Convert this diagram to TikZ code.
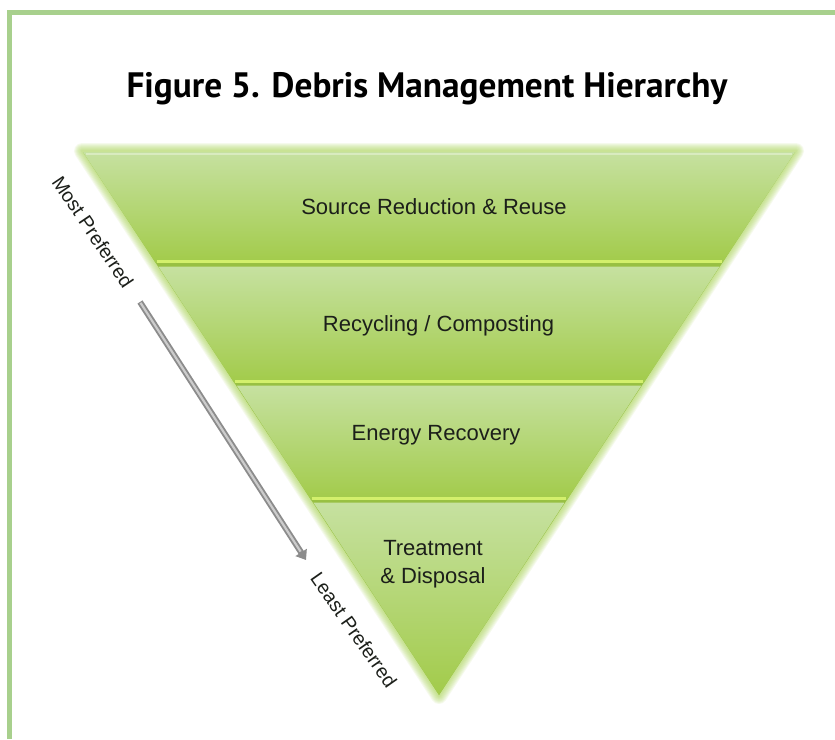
\documentclass[tikz,border=0pt]{standalone}
\usepackage{fontspec}
\setmainfont{Liberation Sans}
\newfontfamily\titlefont{PT Sans}
\usetikzlibrary{arrows.meta}
\definecolor{framegreen}{HTML}{A8D08D}
\definecolor{glowgreen}{HTML}{A6D34E}
\definecolor{bandtop}{HTML}{C6E1A0}
\definecolor{bandmid}{HTML}{ACD35C}
\definecolor{bandbot}{HTML}{A2CB4A}
\definecolor{brightgreen}{HTML}{D3F06C}
\definecolor{basegreen}{HTML}{98C043}
\definecolor{labeltext}{HTML}{1C1F1A}
\tikzset{
  bandshade/.style={top color=bandtop, middle color=bandmid, bottom color=bandbot},
  brightline/.style={draw=brightgreen, line width=2.6pt},
  bandlabel/.style={font=\fontsize{22}{28}\selectfont, text=labeltext, align=center, inner sep=0pt},
  sidelabel/.style={font=\fontsize{19.5}{22}\selectfont, text=labeltext, inner sep=0pt},
  glowline/.style={draw=glowgreen, line join=round, draw opacity=0.10},
}
\begin{document}
\begin{tikzpicture}[x=1pt,y=-1pt]
\useasboundingbox (0,0) rectangle (835,739);
\fill[white] (0,0) rectangle (835,739);
% frame
\draw[framegreen, line width=5pt] (9,739) -- (9,12) -- (835,12);
% title
\node[font=\titlefont\bfseries\fontsize{35.3}{40}\selectfont, anchor=base, inner sep=0pt] (title) at (427,97) {Figure 5. Debris Management Hierarchy};
% glow
\foreach \w in {2,4,6,8,10,12,14,16} {
  \draw[glowline, line width=\w pt] (82,151) -- (796,151) -- (439,696) -- cycle;
}
% base triangle
\fill[basegreen] (83,152) -- (795,152) -- (439,695) -- cycle;
% bands
\shade[bandshade] (83,152) -- (795,152) -- (722.2,263) -- (155.8,263) -- cycle;
\shade[bandshade] (158.4,266.5) -- (719.6,266.5) -- (643.6,383) -- (234.4,383) -- cycle;
\shade[bandshade] (236.7,385.5) -- (641.3,385.5) -- (566.9,500) -- (311.1,500) -- cycle;
\shade[bandshade] (313.4,502.5) -- (564.6,502.5) -- (439,695) -- cycle;
% highlight at top
\draw[white, opacity=0.35, line width=1.5pt] (86,154) -- (792,154);
% bright separators
\draw[brightline] (156.5,261.7) -- (721.5,261.7);
\draw[brightline] (234.9,381.7) -- (643.1,381.7);
\draw[brightline] (311.7,498.7) -- (566.3,498.7);
% band labels
\node[bandlabel, anchor=base] (l1) at (434,214) {Source Reduction \& Reuse};
\node[bandlabel, anchor=base] (l2) at (438.5,331) {Recycling / Composting};
\node[bandlabel, anchor=base] (l3) at (436,440) {Energy Recovery};
\node[bandlabel, anchor=base] (l4) at (433,583) {Treatment\\\& Disposal};
% side labels
\node[sidelabel, rotate=-56] (most) at (93,232) {Most Preferred};
\node[sidelabel, rotate=-55] (least) at (354,630) {Least Preferred};
% arrow
\coordinate (arrS) at (140,302);
\coordinate (arrE) at (306,560);
\draw[draw=black!45, line width=6pt, -{Triangle[length=9pt,width=13pt]}] (arrS) -- (arrE);
\draw[draw=black!20, line width=2.2pt, shorten >=10pt, shorten <=1pt] (arrS) -- (arrE);
\end{tikzpicture}
\end{document}
